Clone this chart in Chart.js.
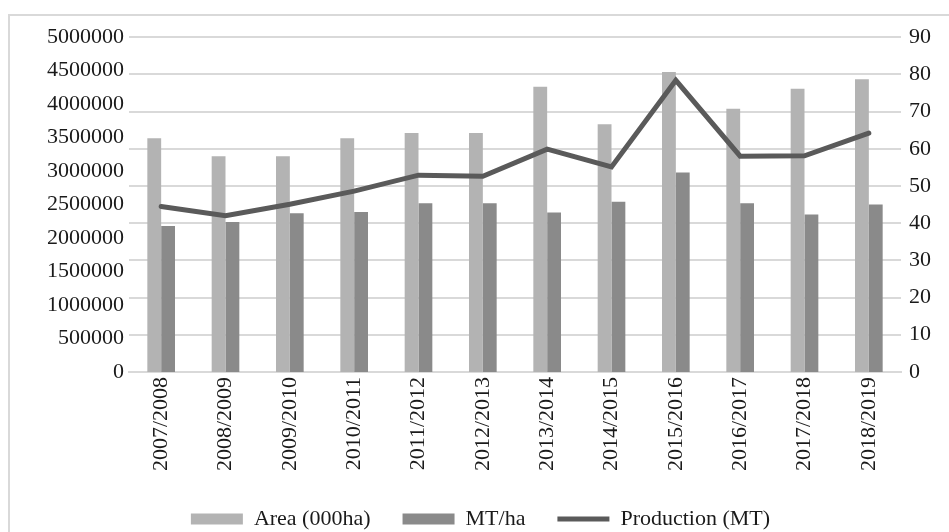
<!DOCTYPE html>
<html>
<head>
<meta charset="utf-8">
<script src="https://cdn.jsdelivr.net/npm/chart.js@4/dist/chart.umd.min.js"></script>
<style>
  html, body { margin: 0; padding: 0; background: #fff; }
  .frame {
    position: absolute;
    left: 8px;
    top: 14px;
    width: 941px;
    height: 518px;
    border-top: 2px solid #d9d9d9;
    border-left: 2px solid #d9d9d9;
  }
</style>
</head>
<body>
<div class="frame">
  <canvas id="crop-chart" width="939" height="516"></canvas>
</div>
<script>
const seasons = [
  "2007/2008", "2008/2009", "2009/2010", "2010/2011", "2011/2012", "2012/2013",
  "2013/2014", "2014/2015", "2015/2016", "2016/2017", "2017/2018", "2018/2019",
];

// bars, read against the left axis
const area = [
  3490000, 3220000, 3220000, 3490000, 3570000, 3570000,
  4260000, 3700000, 4480000, 3930000, 4230000, 4370000,
];
const mtPerHa = [
  2180000, 2240000, 2370000, 2390000, 2520000, 2520000,
  2380000, 2540000, 2980000, 2520000, 2350000, 2500000,
];

// line, read against the right axis
const production = [44.5, 42.0, 45.1, 48.6, 52.9, 52.6, 59.9, 55.1, 78.4, 58.0, 58.1, 64.2];

const leftTicks = { min: 0, max: 5000000, step: 500000 };
const rightTicks = { min: 0, max: 90, step: 10 };

const serif = { family: "'Liberation Serif', 'Times New Roman', serif", size: 22 };
const textColor = "#1a1a1a";

// the legend keeps its wide item gap but needs less height,
// and sits a little left of the canvas centre
const legendFix = {
  id: "legendFix",
  beforeInit(chart) {
    const fit = chart.legend.fit;
    chart.legend.fit = function () {
      fit.bind(chart.legend)();
      this.height -= 8;
    };
  },
  afterLayout(chart) {
    chart.legend.left -= 10;
    chart.legend.right -= 10;
  },
};

const ctx = document.getElementById("crop-chart");

new Chart(ctx, {
  type: "bar",
  data: {
    labels: seasons,
    datasets: [
      {
        label: "Area (000ha)",
        data: area,
        backgroundColor: "#b3b3b3",
        borderWidth: 0,
        yAxisID: "y",
        pointStyle: "rect",
        order: 2,
      },
      {
        label: "MT/ha",
        data: mtPerHa,
        backgroundColor: "#8a8a8a",
        borderWidth: 0,
        yAxisID: "y",
        pointStyle: "rect",
        order: 2,
      },
      {
        type: "line",
        label: "Production (MT)",
        data: production,
        borderColor: "#5a5a5a",
        backgroundColor: "#5a5a5a",
        borderWidth: 5,
        borderCapStyle: "round",
        borderJoinStyle: "miter",
        pointRadius: 0,
        pointHoverRadius: 0,
        pointStyle: "line",
        tension: 0,
        yAxisID: "y1",
        order: 1,
      },
    ],
  },
  plugins: [legendFix],
  options: {
    responsive: false,
    animation: false,
    layout: {
      padding: { left: 32, right: 10, top: 5, bottom: 0 },
    },
    datasets: {
      bar: {
        barPercentage: 1,
        categoryPercentage: 0.43,
      },
    },
    plugins: {
      tooltip: { enabled: false },
      legend: {
        position: "bottom",
        labels: {
          usePointStyle: true,
          pointStyleWidth: 52,
          boxHeight: 11,
          padding: 32,
          color: textColor,
          font: serif,
          sort: (a, b) => a.datasetIndex - b.datasetIndex,
        },
      },
    },
    scales: {
      x: {
        grid: { display: false, drawTicks: false },
        border: { display: true, color: "#d9d9d9", width: 2 },
        ticks: {
          color: textColor,
          font: serif,
          minRotation: 90,
          maxRotation: 90,
          padding: 5,
        },
      },
      y: {
        position: "left",
        min: leftTicks.min,
        max: leftTicks.max,
        grid: { display: false, drawTicks: false },
        border: { display: false },
        ticks: {
          stepSize: leftTicks.step,
          color: textColor,
          font: serif,
          padding: 5,
          callback: (value) => String(value),
        },
      },
      y1: {
        position: "right",
        min: rightTicks.min,
        max: rightTicks.max,
        grid: { color: "#d9d9d9", lineWidth: 2, drawTicks: false },
        border: { display: false },
        ticks: {
          stepSize: rightTicks.step,
          color: textColor,
          font: serif,
          padding: 8,
          callback: (value) => String(value),
        },
      },
    },
  },
});
</script>
</body>
</html>
